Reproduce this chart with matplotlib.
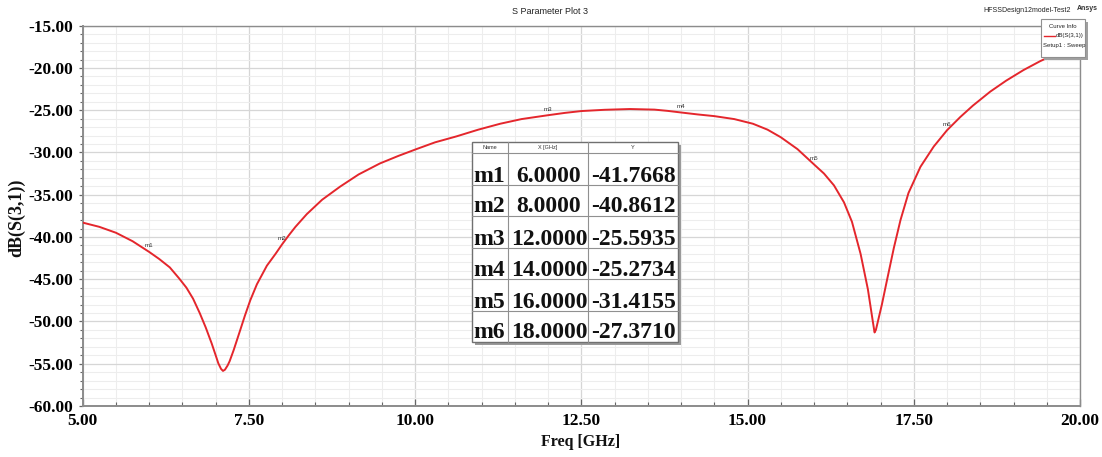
import matplotlib
matplotlib.use("Agg")
import matplotlib.pyplot as plt
from matplotlib.ticker import MultipleLocator, FormatStrFormatter
from matplotlib.patches import Rectangle

# ---- data ----
freq_ghz = [5.00, 5.25, 5.50, 5.75, 6.00, 6.15, 6.31, 6.45, 6.56, 6.66, 6.76,
            6.85, 6.94, 7.00, 7.04, 7.08, 7.11, 7.14, 7.18, 7.21, 7.27, 7.32,
            7.37, 7.44, 7.52, 7.62, 7.77, 7.90, 8.00, 8.10, 8.20, 8.37, 8.60,
            8.87, 9.15, 9.47, 9.75, 10.02, 10.30, 10.62, 10.95, 11.28, 11.60,
            12.00, 12.25, 12.50, 12.85, 13.23, 13.60, 13.80, 14.00, 14.25,
            14.50, 14.80, 15.08, 15.30, 15.50, 15.75, 16.00, 16.15, 16.30,
            16.45, 16.57, 16.70, 16.81, 16.88, 16.91, 16.93, 16.96, 17.02,
            17.10, 17.20, 17.30, 17.42, 17.60, 17.80, 18.00, 18.20, 18.39,
            18.65, 18.89, 19.15, 19.40, 19.70, 20.00]
s31_db = [-38.3, -38.8, -39.5, -40.5, -41.77, -42.6, -43.6, -44.9, -46.0, -47.3,
          -49.0, -50.7, -52.6, -54.0, -54.95, -55.6, -55.85, -55.7, -55.2, -54.7,
          -53.4, -52.2, -51.0, -49.3, -47.5, -45.6, -43.4, -42.0, -40.86, -39.8,
          -38.8, -37.3, -35.6, -34.05, -32.6, -31.3, -30.4, -29.6, -28.8, -28.1,
          -27.3, -26.6, -26.05, -25.59, -25.32, -25.1, -24.95, -24.86, -24.93,
          -25.08, -25.27, -25.5, -25.7, -26.05, -26.6, -27.3, -28.2, -29.6,
          -31.42, -32.5, -33.9, -35.9, -38.2, -42.0, -46.2, -49.8, -51.3, -51.0,
          -50.0, -48.0, -45.0, -41.3, -38.0, -34.8, -31.7, -29.3, -27.37, -25.8,
          -24.45, -22.8, -21.5, -20.25, -19.2, -18.1, -17.2]

marker_names = ["m1", "m2", "m3", "m4", "m5", "m6"]
marker_freqs = [6.0, 8.0, 12.0, 14.0, 16.0, 18.0]
marker_vals = [-41.7668, -40.8612, -25.5935, -25.2734, -31.4155, -27.3710]

x_limits = (5.0, 20.0)
y_limits = (-60.0, -15.0)

SERIF = ["Liberation Serif", "DejaVu Serif"]
SANS = ["Liberation Sans", "DejaVu Sans"]
RED = "#e4262c"

W, H = 1102, 457
fig = plt.figure(figsize=(W / 100, H / 100), dpi=100)
fig.patch.set_facecolor("white")

L, R, T, B = 82.7, 1080.0, 25.7, 406.0
ax = fig.add_axes([L / W, 1 - B / H, (R - L) / W, (B - T) / H])
ax.set_xlim(*x_limits)
ax.set_ylim(*y_limits)

ax.xaxis.set_major_locator(MultipleLocator(2.5))
ax.xaxis.set_minor_locator(MultipleLocator(0.5))
ax.yaxis.set_major_locator(MultipleLocator(5))
ax.yaxis.set_minor_locator(MultipleLocator(1))
ax.xaxis.set_major_formatter(FormatStrFormatter("%.2f"))
ax.yaxis.set_major_formatter(FormatStrFormatter("%.2f"))

ax.grid(which="major", color="#d6d6d6", lw=0.9)
ax.grid(which="minor", color="#ededed", lw=0.8)
ax.set_axisbelow(True)

for s in ax.spines.values():
    s.set_color("#8c8c8c")
    s.set_linewidth(1.0)
ax.spines["left"].set_linewidth(1.4)
ax.spines["bottom"].set_linewidth(1.4)

ax.tick_params(axis="x", which="major", direction="in", length=5, width=0.9,
               color="#666666", pad=5)
ax.tick_params(axis="x", which="minor", direction="in", length=3, width=0.8,
               color="#666666")
ax.tick_params(axis="y", which="major", direction="out", length=3, width=0.9,
               color="#666666", pad=4)
ax.tick_params(axis="y", which="minor", direction="out", length=2, width=0.8,
               color="#666666")
for lab in ax.get_xticklabels() + ax.get_yticklabels():
    lab.set_fontfamily(SERIF)
    lab.set_fontweight("bold")
    lab.set_fontsize(12.5)

ax.plot(freq_ghz, s31_db, color=RED, lw=1.4, zorder=3,
        solid_joinstyle="round")

for n, f, v in zip(marker_names, marker_freqs, marker_vals):
    ax.annotate(n, (f, v), xytext=(0, 6), textcoords="offset pixels",
                ha="center", va="center", fontsize=4.5, family=SANS,
                color="#333333", zorder=4)

# ---- overlay in pixel coordinates ----
ov = fig.add_axes([0, 0, 1, 1], zorder=10)
ov.set_xlim(0, W)
ov.set_ylim(H, 0)
ov.axis("off")

ov.text(550.5, 11, "S Parameter Plot 3", ha="center", va="center",
        fontsize=6.5, family=SANS, color="#222222")
ov.text(1071, 10, "HFSSDesign12model-Test2", ha="right", va="center",
        fontsize=5, family=SANS, color="#222222")
ov.text(1087, 9, "Ansys", ha="center", va="center", fontsize=5,
        family=SANS, fontweight="bold", color="#333333")

ov.text(581, 442.5, "Freq [GHz]", ha="center", va="center", fontsize=11.5,
        family=SERIF, fontweight="bold", color="#111111")
ov.text(17, 218, "dB(S(3,1))", ha="center", va="center", rotation=90,
        fontsize=13, family=SERIF, fontweight="bold", color="#111111")

# legend box (Curve Info)
lx0, lx1, ly0, ly1 = 1041, 1085, 19, 57
ov.add_patch(Rectangle((lx0 + 2.5, ly0 + 2.5), lx1 - lx0, ly1 - ly0,
                       facecolor="#a0a0a0", edgecolor="none"))
ov.add_patch(Rectangle((lx0, ly0), lx1 - lx0, ly1 - ly0, facecolor="white",
                       edgecolor="#909090", lw=0.8))
ov.text((lx0 + lx1) / 2, 26, "Curve Info", ha="center", va="center",
        fontsize=4.3, family=SANS, color="#222222")
ov.plot([lx0 + 3, lx0 + 14], [35.5, 35.5], color=RED, lw=1.0)
ov.text(lx1 - 1.5, 35.5, "dB(S(3,1))", ha="right", va="center",
        fontsize=4.3, family=SANS, color="#222222")
ov.text(lx0 + 2, 45, "Setup1 : Sweep", ha="left", va="center",
        fontsize=4.3, family=SANS, color="#222222")

# marker table
tx0, tx1 = 471.7, 678.0
ty0 = 142.3
head_b = 153.3
row_b = [185.0, 216.0, 248.3, 279.3, 311.0, 341.7]
c1, c2 = 507.7, 588.3
ov.add_patch(Rectangle((tx0 + 3, ty0 + 3), tx1 - tx0, row_b[-1] - ty0,
                       facecolor="#9a9a9a", edgecolor="none"))
ov.add_patch(Rectangle((tx0, ty0), tx1 - tx0, row_b[-1] - ty0,
                       facecolor="white", edgecolor="#707070", lw=1.0))
ov.plot([c1, c1], [ty0, row_b[-1]], color="#909090", lw=0.8)
ov.plot([c2, c2], [ty0, row_b[-1]], color="#909090", lw=0.8)
ov.plot([tx0, tx1], [head_b, head_b], color="#909090", lw=0.8)
for yb in row_b[:-1]:
    ov.plot([tx0, tx1], [yb, yb], color="#909090", lw=0.8)

hy = (ty0 + head_b) / 2
ov.text((tx0 + c1) / 2, hy, "Name", ha="center", va="center", fontsize=4,
        family=SANS, color="#333333")
ov.text((c1 + c2) / 2, hy, "X [GHz]", ha="center", va="center", fontsize=4,
        family=SANS, color="#333333")
ov.text((c2 + tx1) / 2, hy, "Y", ha="center", va="center", fontsize=4,
        family=SANS, color="#333333")

for n, f, v, yb in zip(marker_names, marker_freqs, marker_vals, row_b):
    by = yb - 3.5
    ov.text(tx0 + 1.5, by, n, ha="left", va="baseline", fontsize=17,
            family=SERIF, fontweight="bold", color="#111111")
    ov.text((c1 + c2) / 2 + 1, by, f"{f:.4f}", ha="center", va="baseline",
            fontsize=17, family=SERIF, fontweight="bold", color="#111111")
    ov.text((c2 + tx1) / 2, by, f"{v:.4f}", ha="center", va="baseline",
            fontsize=17, family=SERIF, fontweight="bold", color="#111111")

fig.savefig("out.png", dpi=100)
